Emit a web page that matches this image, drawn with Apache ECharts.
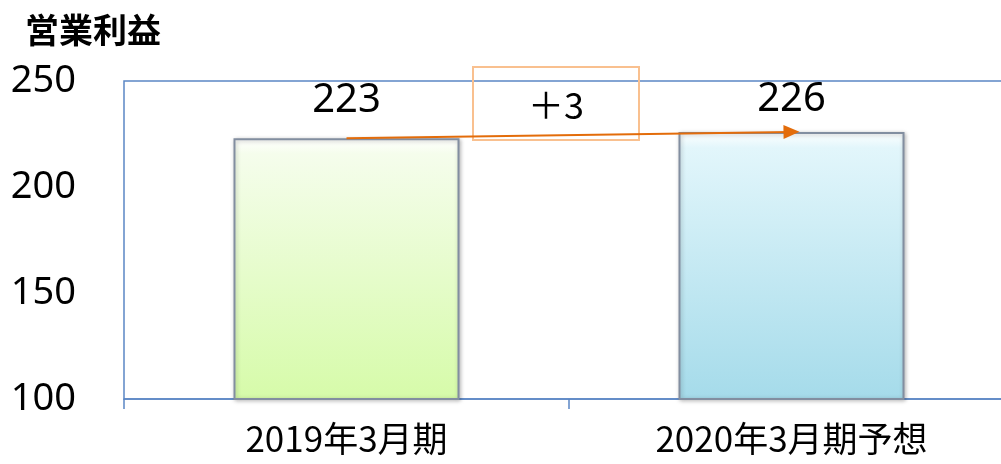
<!DOCTYPE html>
<html><head><meta charset="utf-8">
<script src="https://cdn.jsdelivr.net/npm/echarts@6/dist/echarts.min.js"></script>
<style>html,body{margin:0;padding:0;background:#fff}#c{width:1001px;height:464px}</style>
</head><body><div id="c"></div>
<script>
const categories = ['2019年3月期', '2020年3月期予想'];
const values = [223, 226];
const yTicks = { min: 100, max: 250, interval: 50 };
const chartTitle = '営業利益';

const gradients = [
  ['#f5fdec', '#d6fba9'],
  ['#e2f6fb', '#a5dbea']
];
const labelGap = [18, 12];
const font = '"Noto Sans CJK JP", "Noto Sans", sans-serif';
const chart = echarts.init(document.getElementById('c'));
const delta = values[1] - values[0];
chart.setOption({
  animation: false,
  title: { text: chartTitle, left: 20, top: 8, textStyle: { fontFamily: font, fontWeight: 'bold', fontSize: 34, color: '#000' } },
  grid: { left: 124, top: 81, height: 318, width: 890, outerBoundsMode: 'none', show: true, borderColor: '#5b87c5', borderWidth: 1.5, containLabel: false },
  xAxis: {
    type: 'category', data: categories,
    axisLine: { lineStyle: { color: '#5b87c5', width: 1.5 } },
    axisTick: { show: true, length: 10, lineStyle: { color: '#5b87c5', width: 1.5 } },
    axisLabel: { fontFamily: font, fontSize: 35, color: '#000', margin: 22 }
  },
  yAxis: {
    type: 'value', min: yTicks.min, max: yTicks.max, interval: yTicks.interval,
    axisLine: { show: false }, axisTick: { show: false }, splitLine: { show: false },
    axisLabel: { fontFamily: '"Noto Sans", sans-serif', fontSize: 38, color: '#000', margin: 48 }
  },
  series: [{
    type: 'bar', barWidth: 226,
    data: values.map((v, i) => ({
      value: v,
      label: { distance: labelGap[i] },
      itemStyle: {
        color: new echarts.graphic.LinearGradient(0, 0, 0, 1, [
          { offset: 0, color: '#ffffff' },
          { offset: 0.06, color: gradients[i][0] },
          { offset: 1, color: gradients[i][1] }
        ]),
        borderColor: '#828ea0', borderWidth: 2,
        shadowColor: 'rgba(0,0,0,0.25)', shadowBlur: 4, shadowOffsetX: 1, shadowOffsetY: 1
      }
    })),
    label: { show: true, position: 'top', fontFamily: '"Noto Sans", sans-serif', fontSize: 40, color: '#000' },
    markLine: {
      silent: true, symbol: ['none', 'triangle'], symbolSize: [14, 16],
      label: { show: false },
      lineStyle: { color: '#e36c0a', width: 2, type: 'solid' },
      data: [[{ coord: [categories[0], values[0]] }, { coord: [categories[1], values[1]] }]]
    }
  }],
  graphic: [
    { type: 'rect', x: 473, y: 67, shape: { x: 0, y: 0, width: 166, height: 73 }, style: { fill: 'none', stroke: '#f9c08f', lineWidth: 2 } },
    { type: 'text', x: 556, y: 105, style: { text: '＋' + delta, font: '36px ' + font, fill: '#000', textAlign: 'center', textVerticalAlign: 'middle' } }
  ]
});
</script></body></html>
